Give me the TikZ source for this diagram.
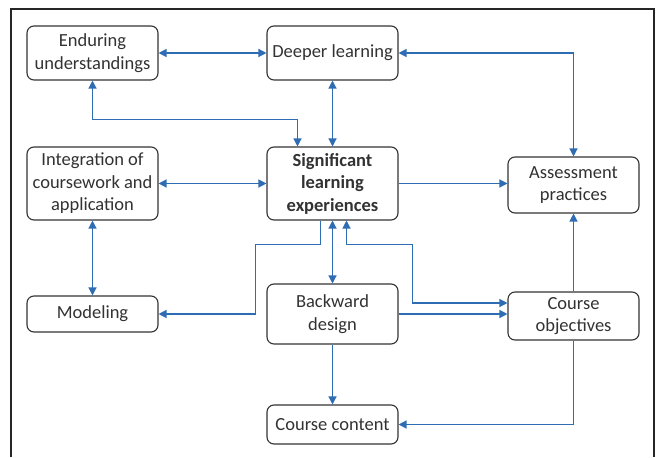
\documentclass[tikz,border=0pt]{standalone}
\usepackage{fontspec}
\setmainfont{Carlito}
\usetikzlibrary{arrows.meta}
\definecolor{linkblue}{RGB}{46,108,180}
\definecolor{boxgray}{RGB}{50,50,50}

\begin{document}
\begin{tikzpicture}[x=1pt,y=-1pt,
    box/.style={draw=boxgray,line width=1.1pt,rounded corners=7pt,align=center,
        minimum width=131pt,inner sep=2pt,text=boxgray,
        font=\fontsize{18.5}{22.5}\selectfont},
    link/.style={linkblue,line width=1.3pt},
    one/.style={link,-{Triangle[length=8pt,width=8pt]}},
    both/.style={link,{Triangle[length=8pt,width=8pt]}-{Triangle[length=8pt,width=8pt]}}]
    \useasboundingbox (0,0) rectangle (660,457);
    % frame, open at the bottom
    \draw[line width=1.2pt,black!85] (11,457) -- (11,9) -- (654,9) -- (654,457);

    \node[box,minimum height=54pt] (endur) at (92.5,53) {Enduring\\understandings};
    \node[box,minimum height=54pt] (deeper) at (332.5,53) {Deeper learning};
    \node[box,minimum height=73pt] (integ) at (92.5,183.5) {Integration of\\coursework and\\application};
    \node[box,minimum height=73pt,font=\fontsize{18.5}{22.5}\selectfont\bfseries] (signif) at (332.5,183.5) {Significant\\learning\\experiences};
    \node[box,minimum height=56pt] (assess) at (573.5,185) {Assessment\\practices};
    \node[box,minimum height=36pt] (model) at (92.5,314) {Modeling};
    \node[box,minimum height=60pt] (backw) at (332.5,314) {Backward\\design};
    \node[box,minimum height=48pt] (objec) at (573.5,316) {Course\\objectives};
    \node[box,minimum height=39pt] (content) at (332.5,424.5) {Course content};

    \draw[both] (endur.east) -- (deeper.west);
    \draw[both] (deeper.east) -| (assess.north);
    \draw[both] (endur.south) -- ++(0,39) -| ([xshift=-35pt]signif.north);
    \draw[both] (deeper.south) -- (signif.north);
    \draw[both] (integ.east) -- (signif.west);
    \draw[one] (signif.east) -- (signif.east -| assess.west);
    \draw[both] (integ.south) -- (model.north);
    \draw[one] ([xshift=-12pt]signif.south) -- ++(0,24) -- ++(-65,0) |- (model.east);
    \draw[both] (signif.south) -- (backw.north);
    \draw[both] ([xshift=14pt]signif.south) -- ++(0,24) -- ++(66,0) |- ([yshift=13pt]objec.west);
    \draw[one] (backw.east) -- (backw.east -| objec.west);
    \draw[one] (backw.south) -- (content.north);
    \draw[one] (objec.north) -- (assess.south);
    \draw[one] (objec.south) |- (content.east);
\end{tikzpicture}
\end{document}
